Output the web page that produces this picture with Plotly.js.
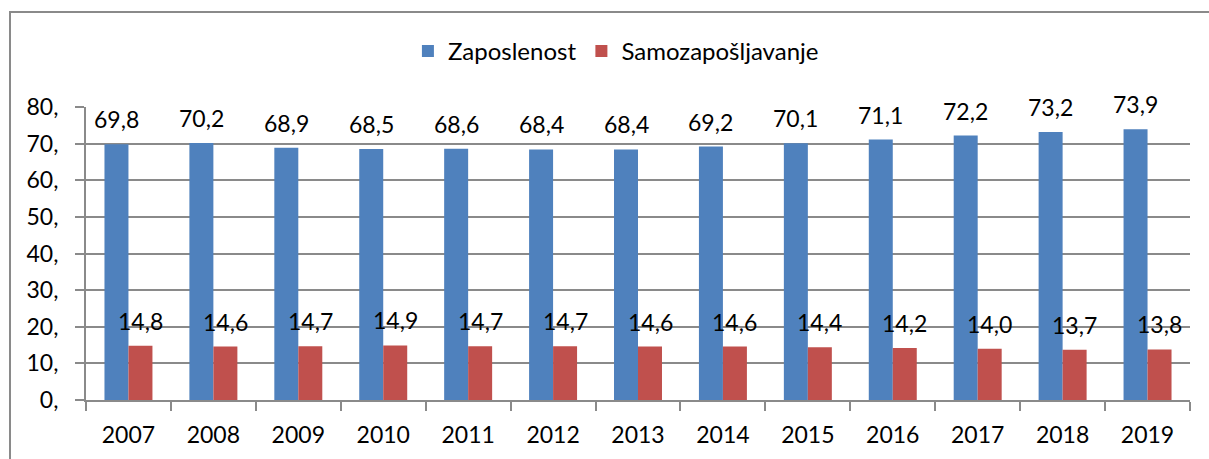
<!DOCTYPE html>
<html>
<head>
<meta charset="utf-8">
<script src="https://cdn.plot.ly/plotly-3.0.1.min.js"></script>
<style>
  html, body { margin: 0; padding: 0; background: #fff; overflow: hidden; }
  #chart { position: absolute; left: 0; top: 0; width: 1209px; height: 459px; }
  #frame { position: absolute; left: 9px; top: 11px; width: 1300px; height: 600px;
           border-left: 2px solid #8a8a8a; border-top: 2px solid #8a8a8a; pointer-events: none; }
</style>
</head>
<body>
<div id="chart"></div>
<div id="frame"></div>
<script>
const years = ['2007','2008','2009','2010','2011','2012','2013','2014','2015','2016','2017','2018','2019'];
const zaposlenost = [69.8, 70.2, 68.9, 68.5, 68.6, 68.4, 68.4, 69.2, 70.1, 71.1, 72.2, 73.2, 73.9];
const samozaposljavanje = [14.8, 14.6, 14.7, 14.9, 14.7, 14.7, 14.6, 14.6, 14.4, 14.2, 14.0, 13.7, 13.8];
const seriesNames = ['Zaposlenost', 'Samozapošljavanje'];
const yTickVals = [0, 10, 20, 30, 40, 50, 60, 70, 80];
const yTickText = ['0,', '10,', '20,', '30,', '40,', '50,', '60,', '70,', '80,'];

const FONT = 'Lato, "Open Sans", sans-serif';
const fmt = v => v.toFixed(1).replace('.', ',');

const traces = [
  { type: 'bar', name: seriesNames[0], x: years, y: zaposlenost,
    marker: { color: '#4F81BD' }, hoverinfo: 'skip' },
  { type: 'bar', name: seriesNames[1], x: years, y: samozaposljavanje,
    marker: { color: '#C0504D' }, hoverinfo: 'skip' }
];

const annotations = [];
years.forEach((yr, i) => {
  // category index i on the category axis
  annotations.push({ x: i, y: zaposlenost[i], xref: 'x', yref: 'y', text: fmt(zaposlenost[i]),
    showarrow: false, xshift: -12, yshift: 25, yanchor: 'middle',
    font: { family: FONT, size: 23, color: '#000' } });
  annotations.push({ x: i, y: samozaposljavanje[i], xref: 'x', yref: 'y', text: fmt(samozaposljavanje[i]),
    showarrow: false, xshift: 12, yshift: 25, yanchor: 'middle',
    font: { family: FONT, size: 23, color: '#000' } });
});

const layout = {
  width: 1209, height: 459,
  margin: { l: 86, r: 19, t: 107, b: 59, pad: 0 },
  paper_bgcolor: '#fff', plot_bgcolor: '#fff',
  font: { family: FONT, size: 23, color: '#000' },
  barmode: 'group', bargap: 0.435, bargroupgap: 0,
  showlegend: true,
  legend: { orientation: 'h', x: 0.48, xanchor: 'center', y: 1.19, yanchor: 'middle',
            font: { family: FONT, size: 24, color: '#000' } },
  xaxis: {
    type: 'category', range: [-0.5, years.length - 0.5],
    showgrid: false, showline: true, linecolor: '#8a8a8a', linewidth: 2,
    ticks: 'outside', tickson: 'boundaries', ticklen: 9, tickcolor: '#8a8a8a', tickwidth: 2,
    tickfont: { family: FONT, size: 23, color: '#000' }, ticklabelstandoff: 13, tickangle: 0,
    fixedrange: true
  },
  yaxis: {
    range: [0, 80], tickvals: yTickVals, ticktext: yTickText,
    showgrid: true, gridcolor: '#8a8a8a', gridwidth: 2,
    showline: true, linecolor: '#8a8a8a', linewidth: 2,
    ticks: 'outside', ticklen: 9, tickcolor: '#8a8a8a', tickwidth: 2,
    tickfont: { family: FONT, size: 23, color: '#000' }, ticklabelstandoff: 12,
    zeroline: false, fixedrange: true
  },
  annotations: annotations
};

Plotly.newPlot('chart', traces, layout, { staticPlot: true, displayModeBar: false });
</script>
</body>
</html>
